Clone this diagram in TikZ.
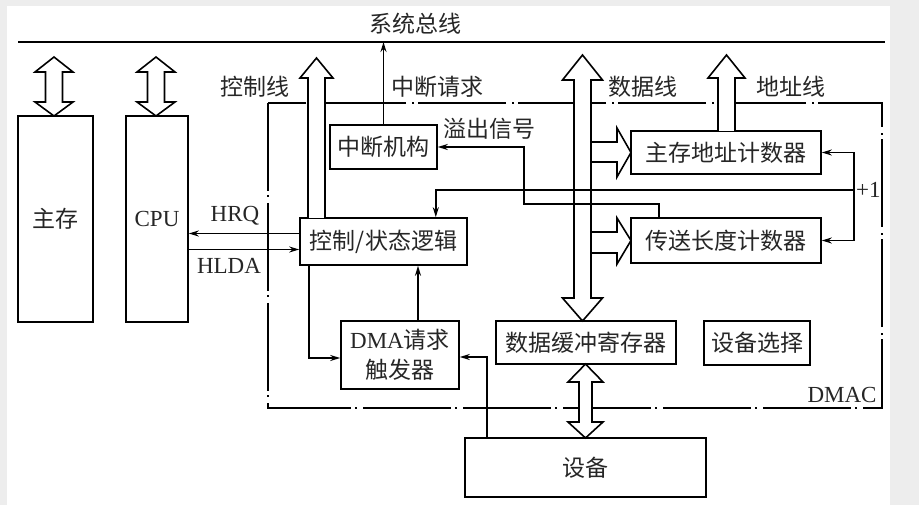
\documentclass[tikz,border=0pt]{standalone}
\usepackage{fontspec}
\setmainfont{Liberation Serif}
\newfontfamily\cjk{Noto Sans CJK SC}
\usetikzlibrary{arrows.meta}
\begin{document}
\begin{tikzpicture}[x=1pt,y=-1pt,
  every node/.style={font=\fontsize{23}{30}\selectfont, text=black!85},
  box/.style={draw, line width=1.6pt, inner sep=0pt, align=center},
  ln/.style={line width=1.6pt},
  tip/.style={ln, -{Stealth[length=10pt,width=6pt]}},
  hollow/.style={ln, fill=white, line join=miter},
  dmacline/.style={line width=1.6pt, dash pattern=on 88pt off 4pt on 2pt off 6pt}]
\useasboundingbox (0,0) rectangle (919,505);
\fill[black!7] (0,0) rectangle (919,505);
\fill[white] (7,6) rectangle (890,505);

% system bus
\coordinate (busL) at (18,42);
\coordinate (busR) at (885,42);
\draw[ln] (busL) -- (busR);
\node (bustxt) at (415,24) {\cjk 系统总线};

% DMAC boundary
\draw[dmacline] (268,103) rectangle (882,408);
\node (dmactxt) at (842,395) {DMAC};

% boxes
\node[box, minimum width=75pt, minimum height=206pt] (mem) at (55.5,219) {\cjk 主存};
\node[box, minimum width=62pt, minimum height=206pt] (cpu) at (157,219) {CPU};
\node[box, minimum width=107pt, minimum height=44pt] (intr) at (383.5,147) {\cjk 中断机构};
\node[box, minimum width=167pt, minimum height=47pt] (logic) at (383.5,241.5) {\cjk 控制/状态逻辑};
\node[box, minimum width=190pt, minimum height=43pt] (addr) at (726,152.5) {\cjk 主存地址计数器};
\node[box, minimum width=190pt, minimum height=45pt] (len) at (726,240.5) {\cjk 传送长度计数器};
\node[box, minimum width=118pt, minimum height=68pt] (dma) at (400,355) {DMA{\cjk 请求}\\{\cjk 触发器}};
\node[box, minimum width=180pt, minimum height=43pt] (buf) at (586,342.5) {\cjk 数据缓冲寄存器};
\node[box, minimum width=106pt, minimum height=44pt] (sel) at (757,343) {\cjk 设备选择};
\node[box, minimum width=241pt, minimum height=59pt] (dev) at (585.5,467.5) {\cjk 设备};

% hollow double arrows main memory / CPU
\draw[hollow] (45.5,72) -- (35,72) -- (54,57) -- (73,72) -- (62.5,72) -- (62.5,102) -- (73,102) -- (54,116) -- (35,102) -- (45.5,102) -- cycle;
\draw[hollow] (147.5,72) -- (137,72) -- (156,57) -- (175,72) -- (164.5,72) -- (164.5,102) -- (175,102) -- (156,116) -- (137,102) -- (147.5,102) -- cycle;

% control line
\draw[hollow] (308,218) -- (308,78) -- (300,78) -- (316.5,58) -- (333,78) -- (325,78) -- (325,218);
\node (ctltxt) at (255,87) {\cjk 控制线};

% data bus
\draw[hollow] (574,80) -- (562.5,80) -- (582.5,55) -- (602.5,80) -- (591,80) -- (591,298) -- (602.5,298) -- (582.5,321) -- (562.5,298) -- (574,298) -- cycle;
\node (datatxt) at (643,87) {\cjk 数据线};
\draw[ln, line join=miter] (591,142) -- (617,142) -- (617,128) -- (631,152.5) -- (617,177) -- (617,162) -- (591,162);
\draw[ln, line join=miter] (591,232) -- (617,232) -- (617,218) -- (631,240.5) -- (617,264) -- (617,253) -- (591,253);

% address line
\draw[hollow] (718,131) -- (718,78) -- (708,78) -- (726.5,55) -- (745,78) -- (735,78) -- (735,131);
\node (addrtxt) at (791,87) {\cjk 地址线};

% buffer <-> device
\draw[hollow] (579,382) -- (568,382) -- (585.5,364) -- (603,382) -- (592,382) -- (592,422) -- (603,422) -- (585.5,438) -- (568,422) -- (579,422) -- cycle;

% interrupt request
\draw[tip] (intr.north) -- (intr.north |- busL);
\node (irqtxt) at (437,87) {\cjk 中断请求};

% overflow signal
\coordinate (ovf) at (524,204);
\draw[tip] ([xshift=29pt]len.north west) |- (ovf) |- (intr.east);
\node (ovftxt) at (489,129) {\cjk 溢出信号};

% +1
\coordinate (pl) at (854,190);
\draw[tip] (pl) |- (addr.east);
\draw[tip] (pl) |- (len.east);
\draw[tip] (pl) -| ([xshift=-32pt]logic.north east);
\node[anchor=west, inner sep=1pt] (pltxt) at (855,190) {+1};

% HRQ / HLDA
\draw[tip] ([yshift=8pt]logic.west) -- ([yshift=8pt]logic.west -| cpu.east);
\draw[tip] ([yshift=-8pt]logic.west -| cpu.east) -- ([yshift=-8pt]logic.west);
\node (hrqtxt) at (235,216) {HRQ};
\node (hldatxt) at (229,266) {HLDA};

% logic <-> DMA trigger
\draw[tip] ([xshift=10pt]logic.south west) |- ([yshift=-3pt]dma.west);
\draw[tip] ([xshift=18pt]dma.north) -- ([xshift=18pt]dma.north |- logic.south);
\draw[tip] ([xshift=23pt]dev.north west) |- ([yshift=-2pt]dma.east);
\end{tikzpicture}
\end{document}
